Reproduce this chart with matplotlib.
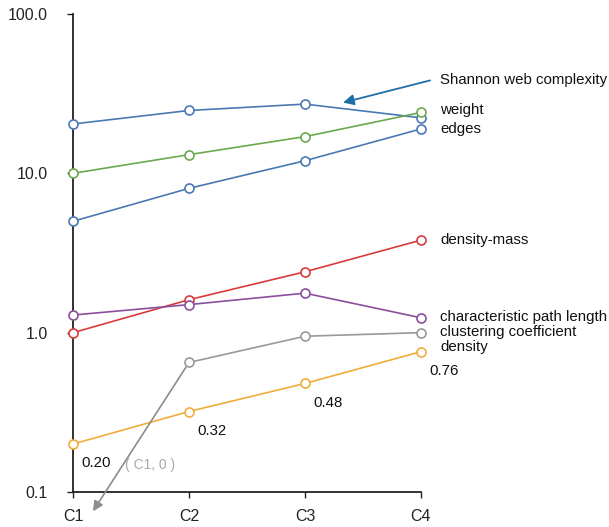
import matplotlib
matplotlib.use("Agg")
import matplotlib.pyplot as plt

plt.rcParams['font.family'] = ['Liberation Sans', 'DejaVu Sans']

categories = ["C1", "C2", "C3", "C4"]
shannon = [20.4, 24.8, 27.2, 22.3]
weight = [10.0, 13.1, 17.0, 24.1]
edges = [5.0, 8.05, 12.0, 19.0]
density_mass = [1.0, 1.61, 2.41, 3.81]
char_path = [1.29, 1.50, 1.77, 1.24]
clustering = [None, 0.65, 0.95, 1.0]
density = [0.20, 0.32, 0.48, 0.76]
density_labels = ["0.20", "0.32", "0.48", "0.76"]
ytick_vals = [0.1, 1.0, 10.0, 100.0]
ytick_labels = ["0.1", "1.0", "10.0", "100.0"]

series = [
    ("Shannon web complexity", shannon, "#4a78b3", None),
    ("weight", weight, "#6aa84f", 25.1),
    ("edges", edges, "#4a78b3", 19.1),
    ("density-mass", density_mass, "#d93b3b", 3.83),
    ("characteristic path length", char_path, "#8a4f9c", 1.255),
    ("clustering coefficient", clustering, "#999999", 1.01),
    ("density", density, "#f0ad3c", 0.813),
]

FS = 10.8

fig = plt.figure(figsize=(6.09, 5.27), dpi=100)
ax = fig.add_axes([73/609, 1-492/527, (421-73)/609, (492-14)/527])
ax.set_yscale('log')
ax.set_xlim(0, 3)
ax.set_ylim(0.1, 100)

xs = list(range(len(categories)))
for name, vals, color, ly in series:
    px = [x for x, v in zip(xs, vals) if v is not None]
    py = [v for v in vals if v is not None]
    ax.plot(px, py, color=color, lw=1.2, marker='o', ms=6.5, mfc='white',
            mec=color, mew=1.2, clip_on=False, zorder=3)
    if ly is not None:
        ax.text(3.164, ly, name, fontsize=FS, va='center', ha='left',
                color='#111111', clip_on=False)

# density value labels
for x, v, lab in zip(xs, density, density_labels):
    ax.annotate(lab, (x, v), xytext=(6, -14), textcoords='offset points',
                fontsize=FS, ha='left', va='center', color='#111111',
                annotation_clip=False)

# Shannon label with arrow
ax.text(3.164, 38.3, "Shannon web complexity", fontsize=FS, ha='left',
        va='center', color='#111111', clip_on=False)
ax.annotate("", xy=(2.328, 27.8), xytext=(3.078, 38.3),
            arrowprops=dict(arrowstyle='-|>', color='#1f6ea8', lw=1.3,
                            mutation_scale=16, shrinkA=0, shrinkB=0),
            annotation_clip=False)

# clustering coefficient C1 pointer (value 0 off log scale)
ax.annotate("", xy=(0.172, 0.0757), xytext=(1, 0.65),
            arrowprops=dict(arrowstyle='-|>', color='#8c8c8c', lw=1.2,
                            mutation_scale=15, shrinkA=4, shrinkB=0),
            annotation_clip=False)
ax.text(0.45, 0.148, "( C1, 0 )", fontsize=10, color='#aaaaaa', ha='left', va='center')

ax.set_xticks(xs)
ax.set_xticklabels(categories, fontsize=11.5)
ax.set_yticks(ytick_vals)
ax.set_yticklabels(ytick_labels, fontsize=11.5)
ax.minorticks_off()
ax.yaxis.set_minor_locator(matplotlib.ticker.NullLocator())
ax.tick_params(axis='both', direction='out', length=4, width=1, colors='#222222')
ax.tick_params(axis='x', pad=8)
ax.tick_params(axis='y', pad=14)
for s in ['top', 'right']:
    ax.spines[s].set_visible(False)
for s in ['left', 'bottom']:
    ax.spines[s].set_linewidth(1.3)
    ax.spines[s].set_color('#222222')

fig.savefig("out.png", dpi=100)
